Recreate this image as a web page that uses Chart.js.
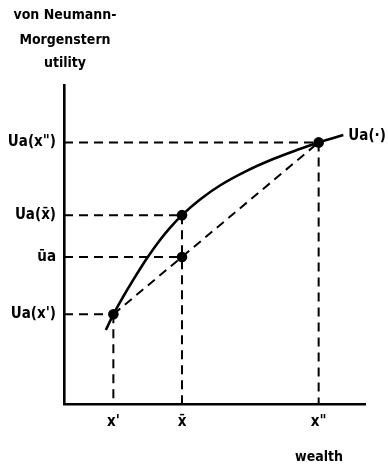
<!DOCTYPE html>
<html>
<head>
<meta charset="utf-8">
<script src="https://cdn.jsdelivr.net/npm/chart.js@4/dist/chart.umd.min.js"></script>
<style>
    html, body { margin: 0; padding: 0; background: #fff; }
    canvas { display: block; }
</style>
</head>
<body>
<canvas id="utilityChart" width="388" height="467"></canvas>
<script>
// utility curve Ua(.) (wealth and utility both on a 0..100 scale)
const curveWealth = [13.9, 16.4, 19.7, 23.0, 27.5, 31.9, 35.2, 39.2, 45.2, 51.8, 60.7, 69.5, 77.3, 84.6, 92.8];
const curveUtility = [23.2, 28.1, 33.7, 38.9, 45.6, 51.4, 55.2, 59.2, 64.1, 68.5, 73.1, 76.8, 79.6, 82.0, 84.3];

// the marked points: x', x-bar on the curve, x-bar on the chord, x''
const dotWealth = [16.4, 39.2, 39.2, 84.6];
const dotUtility = [28.1, 59.2, 46.1, 82.0];

// tick labels
const wealthTicks = [16.4, 39.2, 84.6];
const wealthTickLabels = ["x'", "x\u0304", 'x"'];
const utilityTicks = [28.1, 46.1, 59.2, 82.0];
const utilityTickLabels = ["Ua(x')", "\u016Ba", "Ua(x\u0304)", 'Ua(x")'];

const yTitleLines = ['von Neumann-', 'Morgenstern', 'utility'];
const xTitle = 'wealth';
const curveLabel = 'Ua(\u00B7)';

const fontFamily = "'DejaVu Sans Condensed', 'DejaVu Sans', sans-serif";
const dashPattern = [9, 6];

function dashedSegment(x0, y0, x1, y1) {
    return {
        type: 'line',
        data: [{ x: x0, y: y0 }, { x: x1, y: y1 }],
        borderColor: '#000',
        borderWidth: 2,
        borderDash: dashPattern,
        pointRadius: 0,
    };
}

function buildDatasets() {
    const datasets = [];

    // horizontal guides from the utility axis to each dot
    dotWealth.forEach((w, i) => datasets.push(dashedSegment(0, dotUtility[i], w, dotUtility[i])));

    // vertical guides from the highest dot at each wealth level down to the wealth axis
    wealthTicks.forEach(w => {
        const top = Math.max(...dotUtility.filter((u, i) => dotWealth[i] === w));
        datasets.push(dashedSegment(w, top, w, 0));
    });

    // chord between x' and x''
    datasets.push(dashedSegment(dotWealth[0], dotUtility[0], dotWealth[3], dotUtility[3]));

    datasets.push({
        type: 'line',
        data: curveWealth.map((w, i) => ({ x: w, y: curveUtility[i] })),
        borderColor: '#000',
        borderWidth: 2.6,
        pointRadius: 0,
        cubicInterpolationMode: 'monotone',
    });

    datasets.push({
        type: 'scatter',
        data: dotWealth.map((w, i) => ({ x: w, y: dotUtility[i] })),
        backgroundColor: '#000',
        borderWidth: 0,
        pointRadius: 5.3,
    });

    return datasets;
}

const textPlugin = {
    id: 'axisText',
    afterDraw(chart) {
        const ctx = chart.ctx;
        const xScale = chart.scales.x;
        const yScale = chart.scales.y;
        ctx.save();
        ctx.fillStyle = '#000';
        ctx.font = 'bold 14px ' + fontFamily;
        ctx.textAlign = 'center';
        ctx.textBaseline = 'middle';
        const titleY = [15, 40, 63];
        yTitleLines.forEach((line, i) => ctx.fillText(line, 65, titleY[i]));
        ctx.fillText(xTitle, 319, 457);

        const last = curveWealth.length - 1;
        ctx.font = 'bold 15px ' + fontFamily;
        ctx.textAlign = 'left';
        ctx.fillText(curveLabel, xScale.getPixelForValue(curveWealth[last]) + 5, yScale.getPixelForValue(curveUtility[last]) + 1);
        ctx.restore();
    }
};

new Chart(document.getElementById('utilityChart'), {
    data: { datasets: buildDatasets() },
    options: {
        responsive: false,
        animation: false,
        devicePixelRatio: 1,
        layout: { padding: { top: 85, right: 23, left: 0, bottom: 0 } },
        plugins: { legend: { display: false }, tooltip: { enabled: false } },
        scales: {
            x: {
                type: 'linear',
                min: 0,
                max: 100,
                grid: { display: false, drawTicks: false },
                border: { display: true, color: '#000', width: 2.6 },
                afterBuildTicks: scale => { scale.ticks = wealthTicks.map(v => ({ value: v })); },
                afterFit: scale => { scale.height = 63; },
                ticks: {
                    autoSkip: false,
                    maxRotation: 0,
                    padding: 9,
                    color: '#000',
                    font: { family: fontFamily, size: 15, weight: 'bold' },
                    callback: value => wealthTickLabels[wealthTicks.indexOf(value)],
                },
            },
            y: {
                type: 'linear',
                min: 0,
                max: 100,
                grid: { display: false, drawTicks: false },
                border: { display: true, color: '#000', width: 2.6 },
                afterBuildTicks: scale => { scale.ticks = utilityTicks.map(v => ({ value: v })); },
                afterFit: scale => { scale.width = 64; },
                ticks: {
                    autoSkip: false,
                    padding: 8,
                    color: '#000',
                    font: { family: fontFamily, size: 15, weight: 'bold' },
                    callback: value => utilityTickLabels[utilityTicks.indexOf(value)],
                },
            },
        },
    },
    plugins: [textPlugin],
});
</script>
</body>
</html>
